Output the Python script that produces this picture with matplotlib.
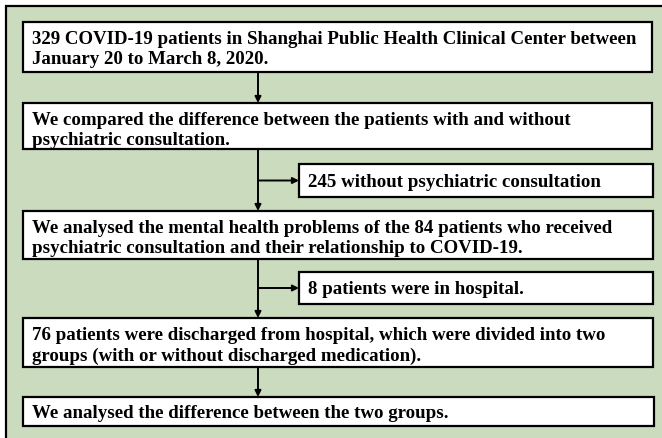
import matplotlib
matplotlib.use("Agg")
import matplotlib.pyplot as plt
from matplotlib.patches import Rectangle

# ---- data (flowchart texts) ----
main_texts = [
    ["329 COVID-19 patients in Shanghai Public Health Clinical Center between",
     "January 20 to March 8, 2020."],
    ["We compared the difference between the patients with and without",
     "psychiatric consultation."],
    ["We analysed the mental health problems of the 84 patients who received",
     "psychiatric consultation and their relationship to COVID-19."],
    ["76 patients were discharged from hospital, which were divided into two",
     "groups (with or without discharged medication)."],
    ["We analysed the difference between the two groups."],
]
side_texts = [
    "245 without psychiatric consultation",
    "8 patients were in hospital.",
]

# ---- layout (pixels) ----
W, H = 662, 439
main_boxes = [(23, 23, 652, 73), (23, 104, 652, 150), (23, 212, 653, 260),
              (23, 319, 653, 368), (23, 398, 654, 427)]
side_boxes = [(299, 165, 653, 198), (299, 273, 653, 305)]
side_after = [1, 2]   # side box branches from arrow below main box index
arrow_x = 258
green = "#CADBBE"
FONT = dict(family="Liberation Serif", weight="bold", fontsize=13.6, color="black")

fig = plt.figure(figsize=(W / 100, H / 100), dpi=100)
ax = fig.add_axes([0, 0, 1, 1])
ax.set_xlim(0, W)
ax.set_ylim(H, 0)
ax.axis("off")

ax.add_patch(Rectangle((6, 7), W + 200, H + 200, facecolor=green,
                       edgecolor="black", lw=1.6, zorder=0))

def box(b):
    x0, y0, x1, y1 = b
    ax.add_patch(Rectangle((x0, y0), x1 - x0, y1 - y0, facecolor="white",
                           edgecolor="black", lw=1.6, zorder=2))

for b, lines in zip(main_boxes, main_texts):
    box(b)
    x0, y0, x1, y1 = b
    if len(lines) == 1:
        ax.text(x0 + 9, (y0 + y1) / 2 + 1, lines[0], va="center", ha="left", zorder=3, **FONT)
    else:
        for i, ln in enumerate(lines):
            ax.text(x0 + 9, y0 + 21 + 20.5 * i, ln, va="baseline", ha="left", zorder=3, **FONT)

for b, t in zip(side_boxes, side_texts):
    box(b)
    x0, y0, x1, y1 = b
    ax.text(x0 + 9, (y0 + y1) / 2 + 1, t, va="center", ha="left", zorder=3, **FONT)

aprops = dict(arrowstyle="-|>", lw=1.4, color="black", mutation_scale=9,
              shrinkA=0, shrinkB=0)
for i in range(len(main_boxes) - 1):
    y_start = main_boxes[i][3]
    y_end = main_boxes[i + 1][1]
    ax.annotate("", xy=(arrow_x, y_end), xytext=(arrow_x, y_start),
                arrowprops=aprops, zorder=1)

for b, k in zip(side_boxes, side_after):
    ym = (b[1] + b[3]) / 2
    ax.annotate("", xy=(b[0], ym), xytext=(arrow_x, ym),
                arrowprops=aprops, zorder=1)

fig.savefig("out.png", dpi=100)
